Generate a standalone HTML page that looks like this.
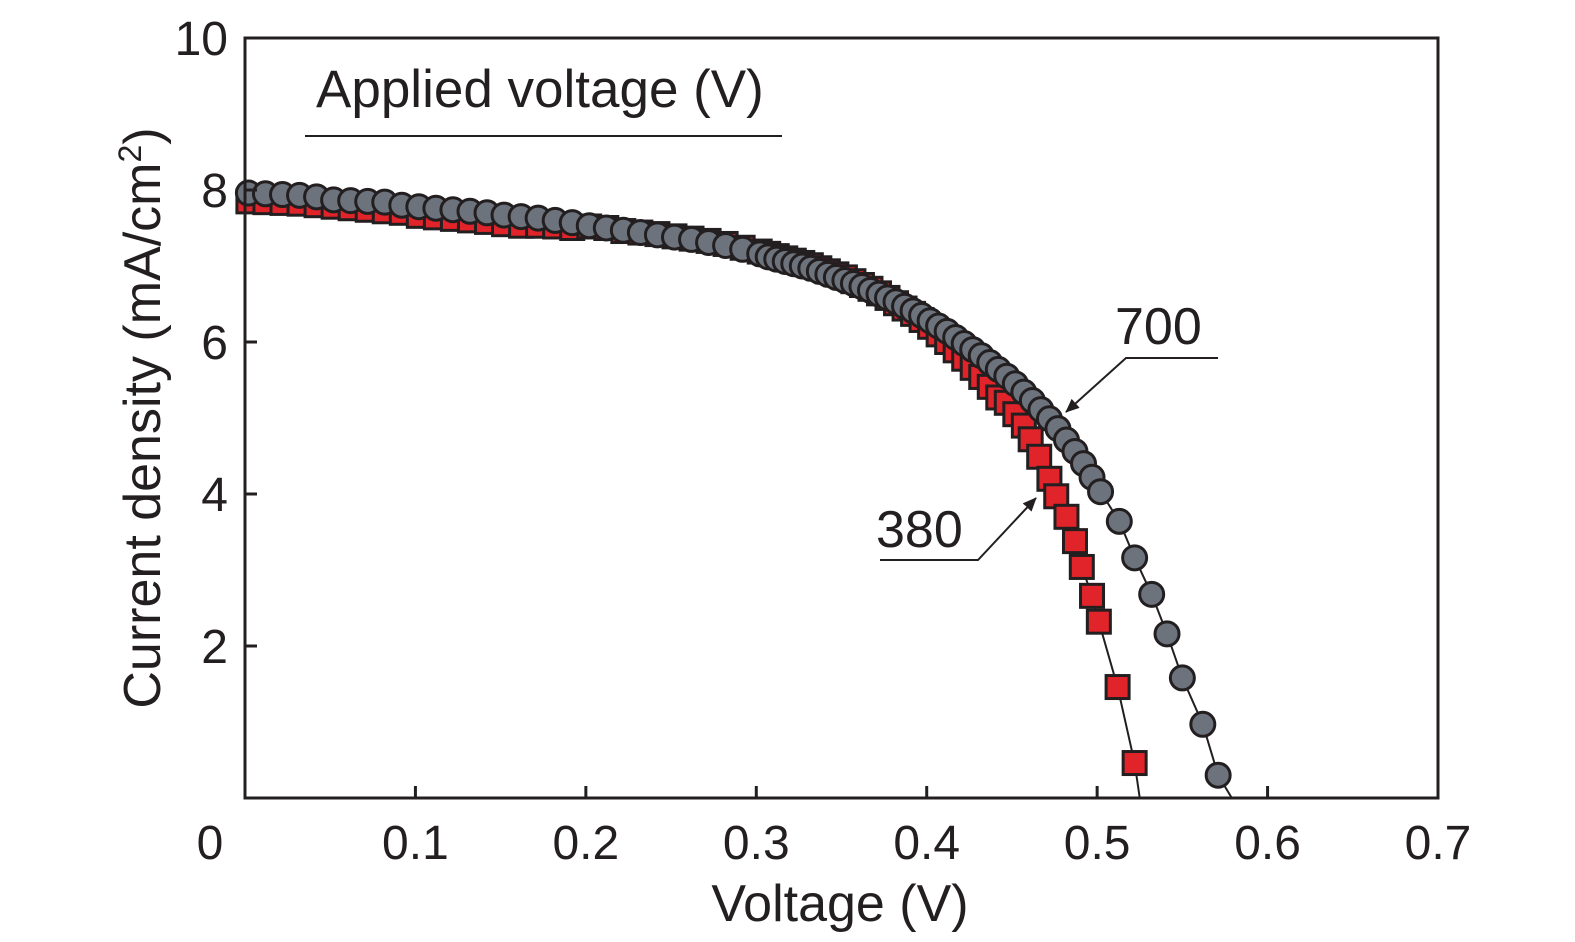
<!DOCTYPE html>
<html><head><meta charset="utf-8"><style>
html,body{margin:0;padding:0;background:#fff;}
svg{display:block;font-family:"Liberation Sans",sans-serif;}
</style></head><body>
<svg id="chart" width="1575" height="942" viewBox="0 0 1575 942">
<g id="marks"></g>
<g id="axes"></g>
</svg>
<script>
const xTicks=[0.1,0.2,0.3,0.4,0.5,0.6,0.7];
const xTickLabels=["0.1","0.2","0.3","0.4","0.5","0.6","0.7"];
const yTicks=[2,4,6,8,10];
const yTickLabels=["2","4","6","8","10"];
const grayV=[0.002,0.012,0.022,0.032,0.042,0.052,0.062,0.072,0.082,0.092,0.102,0.112,0.122,0.132,0.142,0.152,0.162,0.172,0.182,0.192,0.202,0.212,0.222,0.232,0.242,0.252,0.262,0.272,0.282,0.292,0.302,0.307,0.312,0.317,0.322,0.327,0.332,0.337,0.342,0.347,0.352,0.357,0.362,0.367,0.372,0.377,0.382,0.387,0.392,0.397,0.402,0.407,0.412,0.417,0.422,0.427,0.432,0.437,0.442,0.447,0.452,0.457,0.462,0.467,0.472,0.477,0.482,0.487,0.492,0.497,0.502,0.513,0.522,0.532,0.541,0.550,0.562,0.571];
const grayJ=[7.96,7.95,7.94,7.93,7.91,7.87,7.86,7.85,7.84,7.80,7.78,7.76,7.74,7.72,7.70,7.67,7.65,7.63,7.60,7.57,7.53,7.50,7.47,7.44,7.41,7.38,7.35,7.31,7.27,7.22,7.16,7.12,7.09,7.06,7.03,7.00,6.97,6.93,6.89,6.85,6.81,6.77,6.73,6.68,6.63,6.58,6.53,6.47,6.41,6.35,6.28,6.21,6.14,6.06,5.98,5.90,5.82,5.73,5.64,5.55,5.45,5.34,5.23,5.11,4.99,4.86,4.71,4.56,4.40,4.22,4.03,3.64,3.16,2.68,2.16,1.58,0.97,0.30];
const grayFitEnd=[0.579,0];
const redV=[0.002,0.012,0.022,0.032,0.042,0.052,0.062,0.072,0.082,0.092,0.102,0.112,0.122,0.132,0.142,0.152,0.162,0.172,0.182,0.192,0.202,0.212,0.222,0.232,0.242,0.252,0.262,0.272,0.282,0.292,0.302,0.307,0.312,0.317,0.322,0.327,0.332,0.337,0.342,0.347,0.352,0.357,0.362,0.367,0.372,0.377,0.382,0.387,0.392,0.397,0.402,0.407,0.412,0.417,0.422,0.427,0.432,0.437,0.442,0.447,0.452,0.457,0.461,0.466,0.472,0.476,0.482,0.487,0.491,0.497,0.501,0.512,0.522];
const redJ=[7.85,7.84,7.83,7.82,7.80,7.78,7.76,7.74,7.72,7.70,7.66,7.64,7.62,7.60,7.58,7.55,7.53,7.53,7.52,7.50,7.52,7.50,7.46,7.44,7.42,7.39,7.36,7.33,7.29,7.24,7.19,7.16,7.13,7.10,7.07,7.04,7.01,6.97,6.93,6.89,6.85,6.80,6.75,6.70,6.64,6.58,6.51,6.44,6.37,6.29,6.20,6.10,6.00,5.89,5.78,5.66,5.54,5.41,5.27,5.20,5.05,4.90,4.72,4.49,4.20,3.97,3.70,3.38,3.04,2.66,2.32,1.46,0.46];
const redFitEnd=[0.525,0];

const NS="http://www.w3.org/2000/svg";
const X0=245,X1=1438,Y0=798,Y1=38;
const sx=v=>X0+v/0.7*(X1-X0);
const sy=j=>Y0-j/10*(Y0-Y1);
function mk(tag,attrs,parent){const e=document.createElementNS(NS,tag);for(const k in attrs)e.setAttribute(k,attrs[k]);parent.appendChild(e);return e;}
const marks=document.getElementById('marks');
const axes=document.getElementById('axes');

function fitLine(V,J,end,name){
  let pts=V.map((v,i)=>sx(v)+','+sy(J[i]));pts.push(sx(end[0])+','+sy(end[1]));
  const l=mk('polyline',{points:pts.join(' '),fill:'none',stroke:'#231f20','stroke-width':2},marks);
  
  
}
fitLine(redV,redJ,redFitEnd,'fit-line-380');
fitLine(grayV,grayJ,grayFitEnd,'fit-line-700');
redV.forEach((v,i)=>{
  const r=mk('rect',{x:sx(v)-11.5,y:sy(redJ[i])-11.5,width:23,height:23,fill:'#e0242a',stroke:'#231f20','stroke-width':3},marks);
  
  
});
grayV.forEach((v,i)=>{
  const c=mk('circle',{cx:sx(v),cy:sy(grayJ[i]),r:12,fill:'#6d737c',stroke:'#231f20','stroke-width':3},marks);
  
  
});
const f=mk('rect',{x:X0,y:Y1,width:X1-X0,height:Y0-Y1,fill:'none',stroke:'#231f20','stroke-width':3},axes);


xTicks.forEach((t,i)=>{
  const l=mk('line',{x1:sx(t),x2:sx(t),y1:Y0,y2:Y0-12,stroke:'#231f20','stroke-width':3},axes);
  
  
  const tx=mk('text',{x:sx(t),y:859,'font-size':48,'text-anchor':'middle',fill:'#231f20'},axes);tx.textContent=xTickLabels[i];
  
  
});
yTicks.forEach((t,i)=>{
  const l=mk('line',{x1:X0,x2:X0+12,y1:sy(t),y2:sy(t),stroke:'#231f20','stroke-width':3},axes);
  
  
  const tx=mk('text',{x:228,y:sy(t)+17,'font-size':48,'text-anchor':'end',fill:'#231f20'},axes);tx.textContent=yTickLabels[i];
  
  
});
</script>
<svg width="1575" height="942" style="position:absolute;left:0;top:0">
<defs><marker id="ah2" markerWidth="14" markerHeight="12" refX="13" refY="6" orient="auto" markerUnits="userSpaceOnUse"><path d="M0,0 L14,6 L0,12 z" fill="#231f20"/></marker></defs>
<text x="210" y="859" font-size="48" text-anchor="middle" fill="#231f20" font-family="Liberation Sans,sans-serif">0</text>
<text x="840" y="921" font-size="52" text-anchor="middle" fill="#231f20" font-family="Liberation Sans,sans-serif">Voltage (V)</text>
<text transform="translate(160,418) rotate(-90)" font-size="52" text-anchor="middle" fill="#231f20" font-family="Liberation Sans,sans-serif">Current density (mA/cm<tspan font-size="32" dy="-19">2</tspan><tspan dy="19">)</tspan></text>
<text x="316" y="107" font-size="53" fill="#231f20" font-family="Liberation Sans,sans-serif">Applied voltage (V)</text>
<line x1="305" y1="136" x2="782" y2="136" stroke="#231f20" stroke-width="2"/>
<text x="1115" y="344" font-size="52" fill="#231f20" font-family="Liberation Sans,sans-serif">700</text>
<polyline points="1218,358 1126,358 1066,412" fill="none" stroke="#231f20" stroke-width="2" marker-end="url(#ah2)"/>
<text x="876" y="547" font-size="52" fill="#231f20" font-family="Liberation Sans,sans-serif">380</text>
<polyline points="880,560 978,560 1036,498" fill="none" stroke="#231f20" stroke-width="2" marker-end="url(#ah2)"/>
</svg>
</body></html>
